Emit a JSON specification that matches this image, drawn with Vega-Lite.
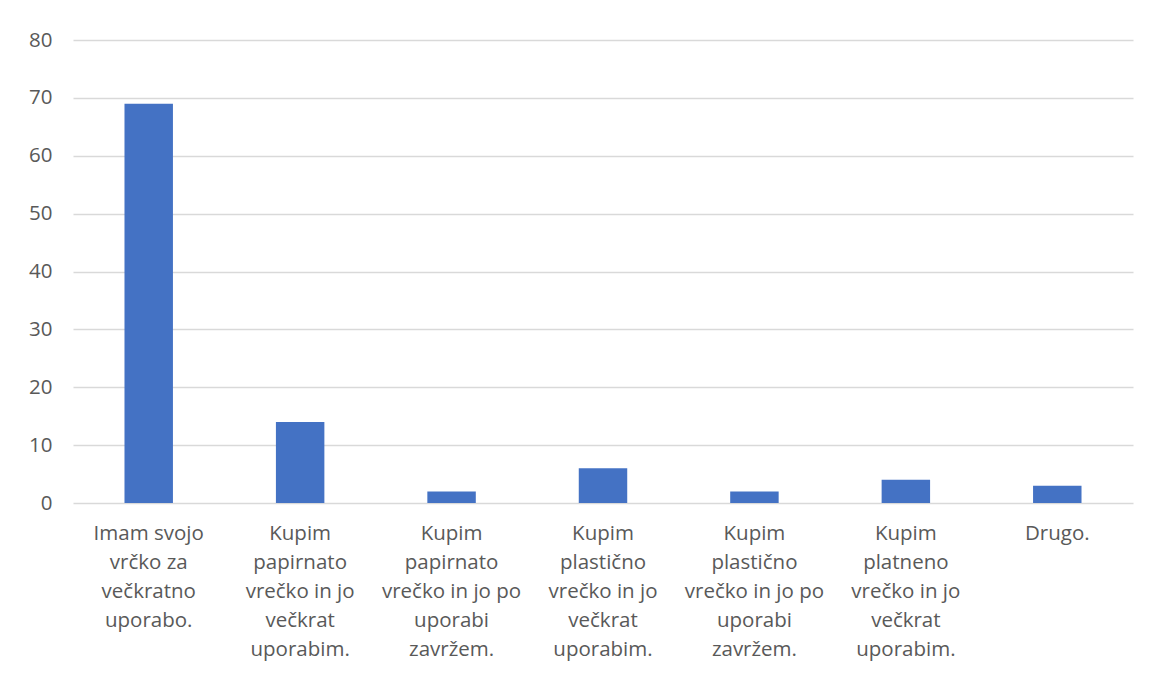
{
  "$schema": "https://vega.github.io/schema/vega-lite/v6.json",
  "autosize": {"type": "none"},
  "width": 1060,
  "height": 463,
  "padding": {"left": 73, "top": 40, "right": 16, "bottom": 174},
  "background": "white",
  "config": {
    "view": {"stroke": null},
    "font": "Open Sans",
    "axis": {"labelFont": "Open Sans", "labelColor": "#595959", "labelFontSize": 20.5}
  },
  "data": {
    "values": [
      {"kategorija": "Imam svojo\nvrčko za\nvečkratno\nuporabo.", "vrednost": 69},
      {"kategorija": "Kupim\npapirnato\nvrečko in jo\nvečkrat\nuporabim.", "vrednost": 14},
      {"kategorija": "Kupim\npapirnato\nvrečko in jo po\nuporabi\nzavržem.", "vrednost": 2},
      {"kategorija": "Kupim\nplastično\nvrečko in jo\nvečkrat\nuporabim.", "vrednost": 6},
      {"kategorija": "Kupim\nplastično\nvrečko in jo po\nuporabi\nzavržem.", "vrednost": 2},
      {"kategorija": "Kupim\nplatneno\nvrečko in jo\nvečkrat\nuporabim.", "vrednost": 4},
      {"kategorija": "Drugo.", "vrednost": 3}
    ]
  },
  "mark": {"type": "bar", "color": "#4472C4"},
  "encoding": {
    "x": {
      "field": "kategorija",
      "type": "nominal",
      "sort": null,
      "title": null,
      "scale": {"paddingInner": 0.68, "paddingOuter": 0.34},
      "axis": {
        "labelAngle": 0,
        "labelExpr": "split(datum.value, '\\n')",
        "labelLineHeight": 29,
        "labelPadding": 20,
        "labelBaseline": "top",
        "ticks": false,
        "domain": false,
        "labelLimit": 200
      }
    },
    "y": {
      "field": "vrednost",
      "type": "quantitative",
      "title": null,
      "scale": {"domain": [0, 80], "nice": false},
      "axis": {
        "values": [0, 10, 20, 30, 40, 50, 60, 70, 80],
        "ticks": false,
        "domain": false,
        "labelPadding": 21,
        "gridColor": "#d9d9d9",
        "gridWidth": 1.5
      }
    }
  }
}
